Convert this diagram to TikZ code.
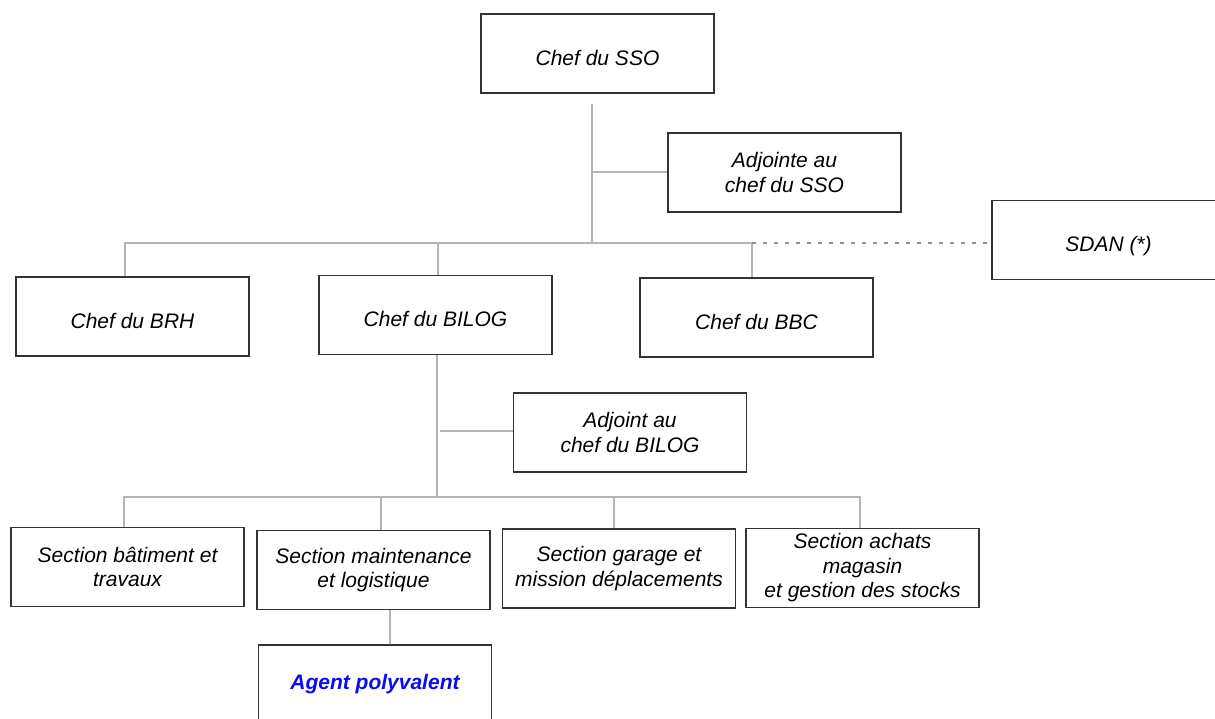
\documentclass[tikz,border=0pt]{standalone}
\usepackage{fontspec}
\setmainfont{Liberation Sans}
\usepackage{xcolor}
\definecolor{boxline}{HTML}{333333}
\definecolor{linkgray}{HTML}{B4B4B4}
\definecolor{agentblue}{HTML}{0A0AF5}

\tikzset{
  orgbox/.style={draw=boxline, line width=1.2pt, fill=white, minimum width=233, minimum height=79,
    inner sep=0pt, align=center, font=\fontsize{21}{24.5}\selectfont\itshape},
  lowtext/.style={text height=23pt, text depth=0pt},
  link/.style={draw=linkgray, line width=1.4pt},
  dottedlink/.style={draw=linkgray!80!black, line width=1.2pt, dash pattern=on 4pt off 7pt}
}

\begin{document}
\begin{tikzpicture}[x=1pt, y=-1pt]
  \useasboundingbox (0,0) rectangle (1215,718);
  \clip (0,0) rectangle (1215,718);

  % direction du service
  \node[orgbox, lowtext] (sso) at (597.5,53.5) {Chef du SSO};
  \node[orgbox] (adjsso) at (784.5,172.5) {Adjointe au\\ chef du SSO};
  \node[orgbox, lowtext] (sdan) at (1108.5,240) {SDAN (*)};

  % bureaux
  \node[orgbox, lowtext] (brh) at (132.5,316.5) {Chef du BRH};
  \node[orgbox, lowtext] (bilog) at (435.5,315) {Chef du BILOG};
  \node[orgbox, lowtext] (bbc) at (756.5,317.5) {Chef du BBC};
  \node[orgbox] (adjbilog) at (630,432.5) {Adjoint au\\ chef du BILOG};

  % sections du BILOG
  \node[orgbox] (secbat) at (127.5,567) {Section b\^atiment et\\ travaux};
  \node[orgbox] (secmaint) at (373.5,570) {Section maintenance\\ et logistique};
  \node[orgbox] (secgarage) at (619,568.5) {Section garage et\\ mission d\'eplacements};
  \node[orgbox] (secachats) at (862.5,568) {Section achats\\ magasin\\ et gestion des stocks};
  \node[orgbox, text=agentblue, font=\fontsize{21}{24.5}\selectfont\itshape\bfseries] (agent) at (375,684.5) {Agent polyvalent};

  % points de jonction
  \coordinate (ssotop) at (592,104);
  \coordinate (ssobar) at (592,243);
  \coordinate (bilogbar) at (437,497);

  % liaisons
  \draw[link] (ssotop) -- (ssobar);
  \draw[link] (ssotop |- 0,172) -- (adjsso.west |- 0,172);
  \draw[link] (ssobar) -- (125,243) -- (brh.north -| 125,0);
  \draw[link] (ssobar) -- (752,243) -- (bbc.north -| 752,0);
  \draw[link] (438,243) -- (bilog.north -| 438,0);
  \draw[dottedlink] (752,243) -- (sdan.west |- 0,243);

  \draw[link] (bilog.south -| bilogbar) -- (bilogbar);
  \draw[link] (440,431) -- (adjbilog.west |- 0,431);
  \draw[link] (bilogbar) -- (124,497) -- (secbat.north -| 124,0);
  \draw[link] (bilogbar) -- (860,497) -- (secachats.north -| 860,0);
  \draw[link] (381,497) -- (secmaint.north -| 381,0);
  \draw[link] (614,497) -- (secgarage.north -| 614,0);
  \draw[link] (secmaint.south -| 390,0) -- (agent.north -| 390,0);
\end{tikzpicture}
\end{document}
